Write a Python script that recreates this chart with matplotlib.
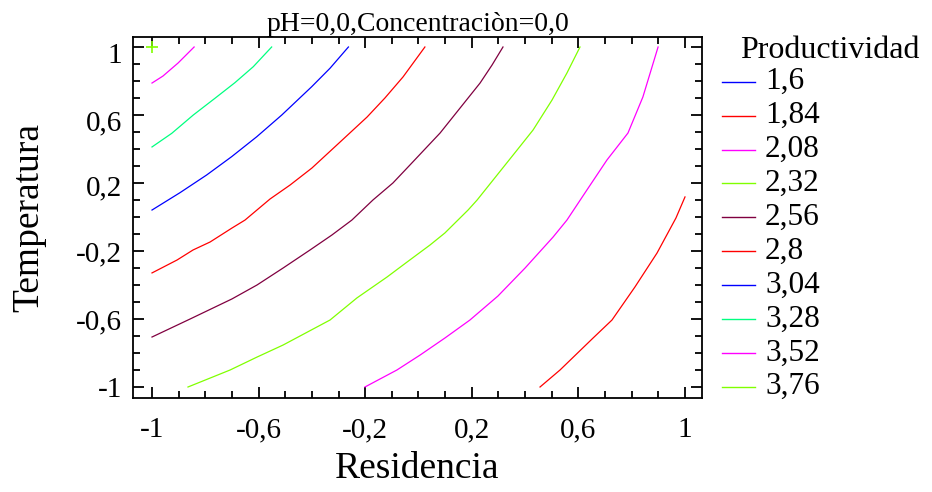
import matplotlib.pyplot as plt
from matplotlib.lines import Line2D
from matplotlib.ticker import MultipleLocator, FixedLocator
from matplotlib.transforms import ScaledTranslation

plt.rcParams['font.family'] = ['Liberation Serif', 'DejaVu Serif']

# contour levels in the legend and their colours
levels = ['1,6', '1,84', '2,08', '2,32', '2,56', '2,8', '3,04', '3,28', '3,52', '3,76']
colors = ['#0000ff', '#ff0000', '#ff00ff', '#80ff00', '#800040',
          '#ff0000', '#0000ff', '#00ff80', '#ff00ff', '#80ff00']

ticks = [-1, -0.6, -0.2, 0.2, 0.6, 1]
tick_labels = ['-1', '-0,6', '-0,2', '0,2', '0,6', '1']

# contour lines (Residencia, Temperatura)
c184_x = [0.456, 0.531, 0.655, 0.726, 0.812, 0.895, 0.966, 1.0]
c184_y = [-1.0, -0.9, -0.712, -0.606, -0.412, -0.212, -0.006, 0.118]

c208_x = [-0.201, -0.081, 0.006, 0.099, 0.193, 0.298, 0.400, 0.505, 0.557, 0.632, 0.707, 0.786, 0.842, 0.899]
c208_y = [-1.0, -0.9, -0.812, -0.712, -0.606, -0.465, -0.3, -0.118, -0.018, 0.159, 0.335, 0.494, 0.706, 1.0]

c232_x = [-0.865, -0.707, -0.606, -0.508, -0.332, -0.231, -0.118, -0.043, 0.043, 0.099, 0.186, 0.220,
          0.295, 0.370, 0.430, 0.501, 0.557, 0.606]
c232_y = [-1.0, -0.9, -0.824, -0.753, -0.606, -0.476, -0.353, -0.265, -0.165, -0.094, 0.041, 0.1,
          0.247, 0.394, 0.512, 0.688, 0.847, 1.0]

c256_x = [-1.0, -0.857, -0.700, -0.606, -0.508, -0.407, -0.325, -0.250, -0.171, -0.096, -0.032,
          0.081, 0.156, 0.231, 0.276, 0.317]
c256_y = [-0.706, -0.6, -0.482, -0.4, -0.3, -0.194, -0.106, -0.018, 0.1, 0.2, 0.306,
          0.494, 0.641, 0.788, 0.894, 1.0]

c280_x = [-1.0, -0.906, -0.846, -0.782, -0.700, -0.651, -0.557, -0.482, -0.400, -0.306, -0.193,
          -0.126, -0.058, 0.024]
c280_y = [-0.329, -0.253, -0.194, -0.147, -0.065, -0.018, 0.106, 0.188, 0.288, 0.424, 0.588,
          0.700, 0.824, 1.0]

c304_x = [-1.0, -0.895, -0.795, -0.701, -0.607, -0.513, -0.401, -0.332, -0.263]
c304_y = [0.041, 0.143, 0.247, 0.355, 0.472, 0.6, 0.766, 0.875, 1.0]

c328_x = [-1.0, -0.926, -0.845, -0.764, -0.689, -0.620, -0.551]
c328_y = [0.412, 0.492, 0.6, 0.698, 0.790, 0.884, 1.0]

c352_x = [-1.0, -0.959, -0.902, -0.842]
c352_y = [0.788, 0.829, 0.906, 1.0]

c376_x = [-1.0]
c376_y = [1.0]

fig = plt.figure(figsize=(9.32, 4.92), dpi=100)
ax = fig.add_axes([133 / 932, 1 - 398 / 492, (702 - 133) / 932, (398 - 37) / 492])

lines = [(c184_x, c184_y, colors[1]), (c208_x, c208_y, colors[2]), (c232_x, c232_y, colors[3]),
         (c256_x, c256_y, colors[4]), (c280_x, c280_y, colors[5]), (c304_x, c304_y, colors[6]),
         (c328_x, c328_y, colors[7]), (c352_x, c352_y, colors[8])]
for xs, ys, col in lines:
    ax.plot(xs, ys, color=col, lw=0.9)
ax.plot(c376_x, c376_y, '+', color=colors[9], ms=9, mew=1.2)

ax.set_xlim(-1.0713, 1.0638)
ax.set_ylim(-1.0647, 1.0588)
ax.xaxis.set_major_locator(FixedLocator(ticks))
ax.yaxis.set_major_locator(FixedLocator(ticks))
ax.xaxis.set_minor_locator(MultipleLocator(0.1))
ax.yaxis.set_minor_locator(MultipleLocator(0.1))
ax.set_xticklabels(tick_labels)
ax.set_yticklabels(tick_labels)
ax.tick_params(which='both', direction='in', top=True, right=True, width=1.3, labelsize=21)
ax.tick_params(axis='x', pad=14)
ax.tick_params(axis='y', pad=8)
ax.tick_params(which='major', length=8)
ax.tick_params(which='minor', length=5)
for s in ax.spines.values():
    s.set_linewidth(1.3)

# the upper y labels sit a little below their ticks in the original
shift_px = [0, 0, 0, 2, 5, 6]
for lab, d in zip(ax.get_yticklabels(), shift_px):
    lab.set_transform(lab.get_transform() + ScaledTranslation(0, -d / 100, fig.dpi_scale_trans))

ax.set_xlabel('Residencia', fontsize=27, labelpad=6)
ax.set_ylabel('Temperatura', fontsize=27, labelpad=21)
ax.set_title('pH=0,0,Concentraciòn=0,0', fontsize=20, pad=3.5)

# legend drawn by hand
fig.text(830 / 932, 1 - 50 / 492, 'Productividad', fontsize=23, ha='center', va='center')
for i in range(len(levels)):
    yy = 1 - (81.7 + i * 33.9) / 492
    fig.add_artist(Line2D([722 / 932, 755 / 932], [yy, yy], color=colors[i], lw=1.0,
                          transform=fig.transFigure))
    fig.text(765 / 932, yy, levels[i], fontsize=22.5, ha='left', va='center')

fig.savefig('out.png', dpi=100)
